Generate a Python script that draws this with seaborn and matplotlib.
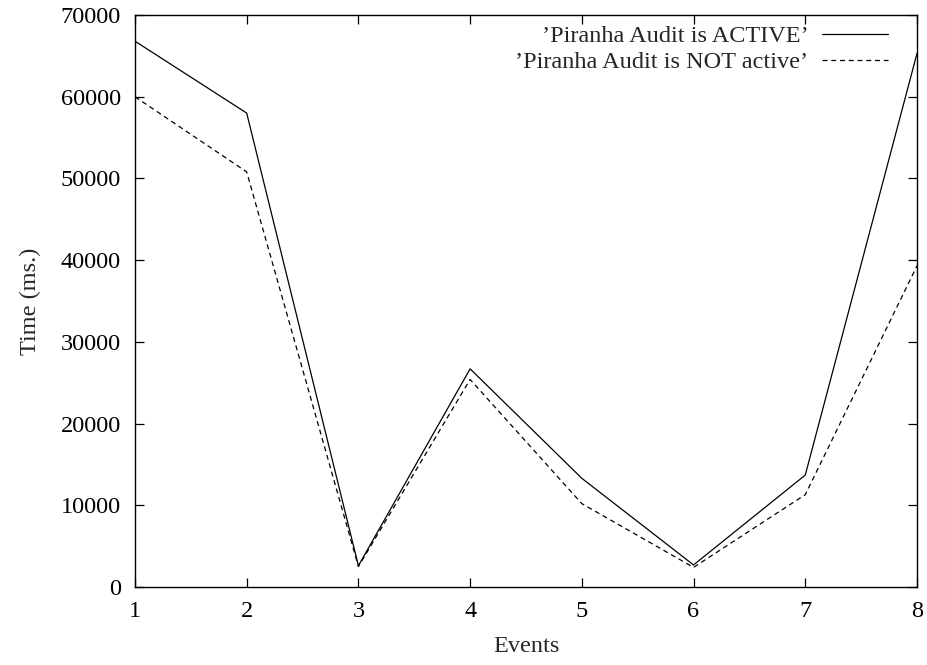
import numpy as np
import pandas as pd
import matplotlib
matplotlib.use("Agg")
import matplotlib.pyplot as plt
import seaborn as sns

# --- data ---
events = [1, 2, 3, 4, 5, 6, 7, 8]
time_active = [66800, 58000, 2600, 26700, 13300, 2700, 13700, 65300]
time_not_active = [60000, 50800, 2500, 25400, 10200, 2400, 11300, 39300]
label_active = "\u2019Piranha Audit is ACTIVE\u2019"
label_not_active = "\u2019Piranha Audit is NOT active\u2019"

sns.set_style("ticks")
plt.rcParams['font.family'] = ['Liberation Serif', 'DejaVu Serif']
fs = 17.5
plt.rcParams['font.size'] = fs

fig = plt.figure(figsize=(9.27, 6.65), dpi=100)
ax = fig.add_axes([0.1456, 0.1173, 0.9892 - 0.1456, 0.9774 - 0.1173])

sns.lineplot(x=events, y=time_active, ax=ax, color='black', linewidth=0.9,
             label=label_active)
sns.lineplot(x=events, y=time_not_active, ax=ax, color='black', linewidth=0.9,
             linestyle=(0, (4, 3)), label=label_not_active)

ax.set_xlim(1, 8)
ax.set_ylim(0, 70000)
ax.set_xticks(events)
ax.set_yticks(np.arange(0, 70001, 10000))
ax.tick_params(direction='in', length=6.5, width=0.9, top=True, right=True,
               labelsize=fs, pad=10, colors='black')
for s in ax.spines.values():
    s.set_linewidth(1.0)
    s.set_color('black')

ax.set_xlabel('Events', fontsize=fs, labelpad=10)
ax.set_ylabel('Time (ms.)', fontsize=fs, labelpad=14)

leg = ax.legend(loc='upper right', bbox_to_anchor=(0.963, 0.9825),
                frameon=False, markerfirst=False, borderaxespad=0,
                borderpad=0, handlelength=2.7, fontsize=fs,
                labelspacing=0.17, handletextpad=0.58)
for t in leg.get_texts():
    t.set_ha('right')

fig.savefig('out.png', dpi=100)
